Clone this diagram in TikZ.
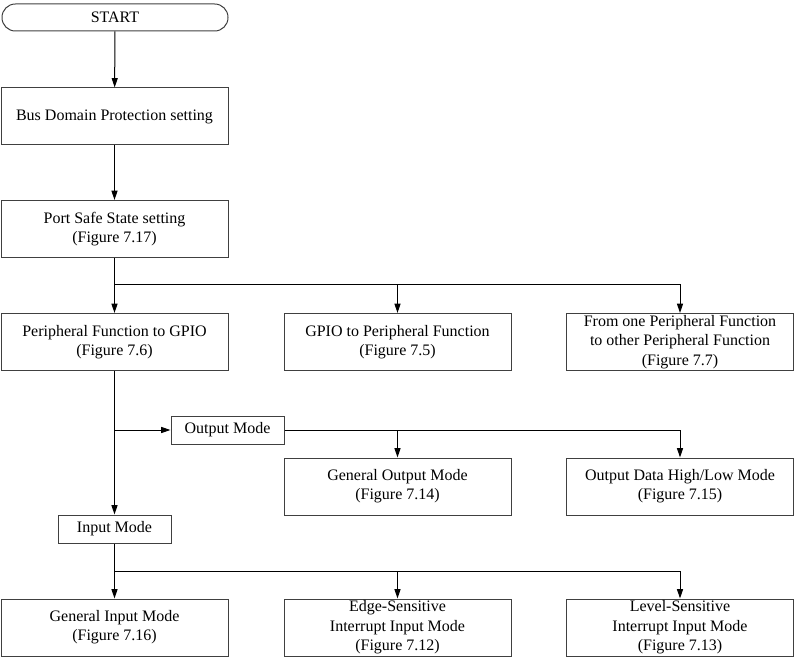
\documentclass[tikz,border=0pt]{standalone}
\usepackage{fontspec}
\setmainfont{Liberation Serif}
\usepackage{tikz}
\usetikzlibrary{arrows.meta,positioning}
\tikzstyle{blk} = [rectangle, draw=black!75, line width=0.75pt, align=center, inner sep=0pt, minimum width=170.25pt, minimum height=42.75pt, font=\fontsize{12}{14.5}\selectfont]
\tikzstyle{sml} = [rectangle, draw=black!75, line width=0.75pt, align=center, inner sep=0pt, minimum width=84.75pt, minimum height=21pt, font=\fontsize{12}{14.5}\selectfont]
\tikzstyle{trm} = [rectangle, rounded corners=10pt, draw=black!75, line width=0.75pt, align=center, inner sep=0pt, minimum width=169.5pt, minimum height=20.25pt, font=\fontsize{12}{14.5}\selectfont]
\tikzstyle{arr} = [line width=0.75pt, -{Triangle[length=7pt,width=4.5pt]}]
\tikzstyle{ln} = [line width=0.75pt]

\begin{document}
\begin{tikzpicture}[x=0.75pt,y=-0.75pt]
		\useasboundingbox (0,0) rectangle (796,659);

		\node[trm] (start) at (115,17.5) {START};
		\node[blk] (bus) at (114.5,116.5) {Bus Domain Protection setting};
		\node[blk] (safe) at (114.5,229) {Port Safe State setting\\(Figure 7.17)};

		\node[blk] (pgpio) at (114.5,342) {Peripheral Function to GPIO\\(Figure 7.6)};
		\node[blk] (gpiop) at (397.5,342) {GPIO to Peripheral Function\\(Figure 7.5)};
		\node[blk] (p2p) at (680,342) {From one Peripheral Function\\to other Peripheral Function\\(Figure 7.7)};

		\node[sml] (outm) at (227.5,430) {Output Mode};
		\node[blk] (genout) at (397.5,486.5) {General Output Mode\\(Figure 7.14)};
		\node[blk] (hilo) at (680,486.5) {Output Data High/Low Mode\\(Figure 7.15)};

		\node[sml] (inm) at (114.5,529) {Input Mode};
		\node[blk] (genin) at (114.5,627.5) {General Input Mode\\(Figure 7.16)};
		\node[blk] (edge) at (397.5,627.5) {Edge-Sensitive\\Interrupt Input Mode\\(Figure 7.12)};
		\node[blk] (level) at (680,627.5) {Level-Sensitive\\Interrupt Input Mode\\(Figure 7.13)};

		% branch points
		\coordinate (j1) at (114.5,285);
		\coordinate (j2) at (114.5,430);
		\coordinate (j3) at (114.5,571);

		\draw[arr] (start) -- (bus);
		\draw[arr] (bus) -- (safe);
		\draw[arr] (safe) -- (pgpio);
		\draw[arr] (j1) -| (gpiop);
		\draw[arr] (j1) -| (p2p);

		\draw[arr] (pgpio) -- (inm);
		\draw[arr] (j2) -- (outm);
		\draw[arr] (outm) -| (genout);
		\draw[arr] (outm) -| (hilo);

		\draw[arr] (inm) -- (genin);
		\draw[arr] (j3) -| (edge);
		\draw[arr] (j3) -| (level);
	\end{tikzpicture}
\end{document}
